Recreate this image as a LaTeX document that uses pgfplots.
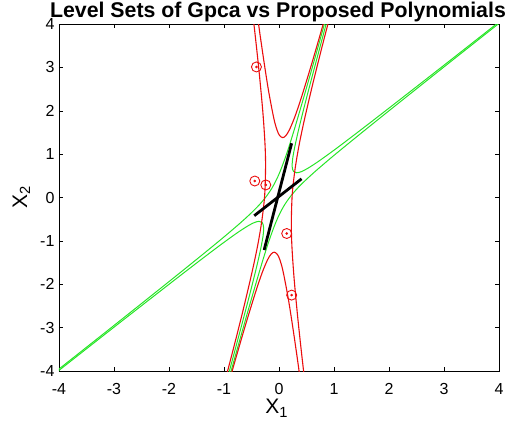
\documentclass[border=0pt]{standalone}
\usepackage{fontspec}
\setmainfont{Liberation Sans}
\usepackage{pgfplots}
\pgfplotsset{compat=1.18}
\definecolor{mred}{rgb}{0.92,0.05,0.05}
\definecolor{mgreen}{rgb}{0.15,0.9,0.15}
\begin{document}
\begin{tikzpicture}
\path[use as bounding box] (-59pt,-50pt) rectangle (457pt,371pt);
\begin{axis}[
 at={(0pt,0pt)}, anchor=south west,
 scale only axis, width=440pt, height=347pt,
 xmin=-4,xmax=4,ymin=-4,ymax=4,
 xtick={-4,...,4}, ytick={-4,...,4},
 xticklabels={-4,-3,-2,-1,0,1,2,3,4},
 yticklabels={-4,-3,-2,-1,0,1,2,3,4},
 tick align=inside, major tick length=4pt,
 tick style={black, line width=0.5pt},
 axis line style={black, line width=0.6pt},
 ticklabel style={font=\fontsize{16}{18}\selectfont},
 xticklabel style={anchor=base, yshift=-23pt},
 yticklabel style={anchor=east, xshift=-1pt},
 xlabel={X\textsubscript{1}},
 ylabel={X\textsubscript{2}},
 xlabel style={at={(axis description cs:0.495,-0.1239)}, anchor=base, font=\fontsize{21}{24}\selectfont, inner sep=0pt},
 ylabel style={at={(axis description cs:-0.0727,0.5)}, anchor=base, font=\fontsize{21}{24}\selectfont, inner sep=0pt},
]
% green level sets (GPCA)
\addplot[mgreen, line width=1pt, smooth] coordinates {(4.983,5.026) (3.984,4.03) (2.986,3.036) (1.988,2.049) (1.392,1.466) (0.997,1.088) (0.704,0.821) (0.514,0.666) (0.404,0.595) (0.320,0.57) (0.264,0.60) (0.240,0.707) (0.248,0.89) (0.291,1.194) (0.367,1.62) (0.496,2.274) (0.679,3.155) (0.934,4.361)};
\addplot[mgreen, line width=1pt, smooth] coordinates {(-5.023,-5.006) (-4.024,-4.0095) (-3.026,-3.016) (-2.028,-2.029) (-1.432,-1.446) (-1.037,-1.068) (-0.744,-0.801) (-0.554,-0.646) (-0.444,-0.575) (-0.360,-0.55) (-0.304,-0.58) (-0.280,-0.687) (-0.288,-0.87) (-0.331,-1.174) (-0.407,-1.60) (-0.536,-2.254) (-0.719,-3.135) (-0.974,-4.341)};
\addplot[mgreen, line width=1pt, smooth] coordinates {(-5.017,-4.974) (-4.016,-3.97) (-3.014,-2.964) (-2.012,-1.951) (-1.408,-1.334) (-1.003,-0.912) (-0.696,-0.579) (-0.486,-0.334) (-0.356,-0.165) (-0.240,0.01) (-0.136,0.20) (-0.040,0.427) (0.048,0.69) (0.151,1.054) (0.267,1.52) (0.426,2.204) (0.629,3.105) (0.898,4.325)};
\addplot[mgreen, line width=1pt, smooth] coordinates {(4.977,4.994) (3.976,3.99) (2.974,2.984) (1.972,1.971) (1.368,1.354) (0.963,0.932) (0.656,0.599) (0.446,0.354) (0.316,0.185) (0.200,0.01) (0.096,-0.18) (0.0,-0.407) (-0.088,-0.67) (-0.191,-1.034) (-0.307,-1.50) (-0.466,-2.184) (-0.669,-3.085) (-0.938,-4.305)};
% red level sets (proposed)
\addplot[mred, line width=1.1pt, smooth] coordinates {(-0.428,4.516) (-0.351,3.81) (-0.271,3.114) (-0.187,2.438) (-0.092,1.812) (-0.034,1.549) (0.010,1.431) (0.066,1.38) (0.122,1.4225) (0.188,1.556) (0.285,1.850) (0.400,2.278) (0.579,3.016) (0.755,3.781) (0.930,4.559)};
\addplot[mred, line width=1.1pt, smooth] coordinates {(0.408,-4.396) (0.331,-3.69) (0.251,-2.994) (0.167,-2.318) (0.072,-1.692) (0.014,-1.429) (-0.030,-1.311) (-0.086,-1.26) (-0.142,-1.3025) (-0.208,-1.436) (-0.305,-1.730) (-0.420,-2.158) (-0.599,-2.896) (-0.775,-3.661) (-0.950,-4.439)};
\addplot[mred, line width=1.1pt, smooth] coordinates {(-0.504,4.524) (-0.429,3.696) (-0.358,2.852) (-0.294,1.976) (-0.256,1.27) (-0.244,0.74) (-0.260,0.06) (-0.311,-0.5245) (-0.387,-1.10) (-0.490,-1.72) (-0.645,-2.556) (-0.820,-3.441) (-1.06,-4.61)};
\addplot[mred, line width=1.1pt, smooth] coordinates {(0.484,-4.404) (0.409,-3.576) (0.338,-2.732) (0.274,-1.856) (0.236,-1.15) (0.224,-0.62) (0.240,0.06) (0.291,0.6445) (0.367,1.22) (0.470,1.84) (0.625,2.676) (0.800,3.561) (1.040,4.73)};
% black fitted subspaces
\addplot[black, line width=2.8pt] coordinates {(-0.27,-1.21) (0.23,1.25)};
\addplot[black, line width=2.8pt] coordinates {(-0.45,-0.42) (0.41,0.43)};
% sample points
\addplot[only marks, mark=o, mark size=5pt, mred, mark options={line width=0.9pt}] coordinates {(-0.41,3.01) (-0.44,0.38) (-0.24,0.29) (0.14,-0.83) (0.23,-2.25)};
\addplot[only marks, mark=*, mark size=1.1pt, mred] coordinates {(-0.41,3.01) (-0.44,0.38) (-0.24,0.29) (0.14,-0.83) (0.23,-2.25)};
\end{axis}
\node[anchor=base, inner sep=0pt, font=\fontsize{21.3}{24}\selectfont\bfseries] at (219pt,353pt) {Level Sets of Gpca vs Proposed Polynomials};
\end{tikzpicture}
\end{document}
